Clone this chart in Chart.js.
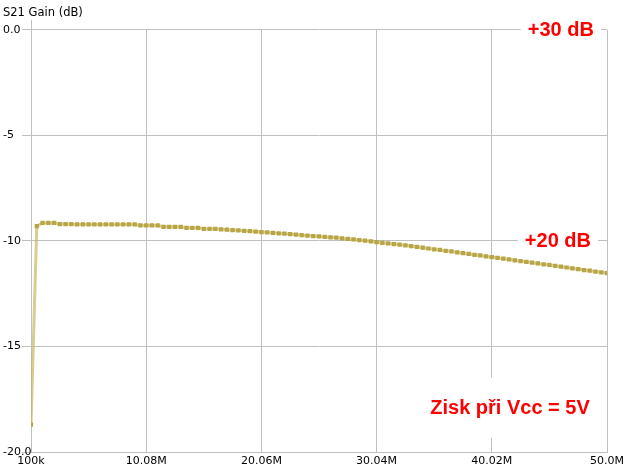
<!DOCTYPE html>
<html>
<head>
<meta charset="utf-8">
<script src="https://cdn.jsdelivr.net/npm/chart.js@4.4.1/dist/chart.umd.min.js"></script>
<style>
  html, body { margin: 0; padding: 0; background: #fff; }
  #wrap { width: 627px; height: 472px; }
</style>
</head>
<body>
<div id="wrap"><canvas id="gainChart"></canvas></div>
<script>
// Sweep settings (MHz) - 101 points, 100k .. 50M
const SWEEP_START = 0.1;
const SWEEP_STEP = 0.499;

// S21 gain (dB)
const gainDb = [
  -18.7, -9.3, -9.15, -9.15, -9.15, -9.2, -9.2, -9.21, -9.22, -9.22,
  -9.22, -9.22, -9.22, -9.22, -9.22, -9.22, -9.22, -9.22, -9.22, -9.27,
  -9.27, -9.27, -9.27, -9.33, -9.33, -9.33, -9.33, -9.38, -9.38, -9.38,
  -9.43, -9.43, -9.43, -9.45, -9.47, -9.49, -9.5, -9.52, -9.54, -9.56,
  -9.58, -9.6, -9.62, -9.64, -9.66, -9.68, -9.7, -9.73, -9.75, -9.77,
  -9.79, -9.81, -9.83, -9.85, -9.88, -9.9, -9.93, -9.96, -9.99, -10.02,
  -10.06, -10.09, -10.12, -10.15, -10.18, -10.21, -10.25, -10.28, -10.32, -10.36,
  -10.4, -10.43, -10.47, -10.5, -10.54, -10.58, -10.62, -10.66, -10.69, -10.73,
  -10.77, -10.8, -10.84, -10.88, -10.92, -10.96, -10.99, -11.03, -11.07, -11.11,
  -11.14, -11.18, -11.22, -11.26, -11.3, -11.34, -11.38, -11.41, -11.45, -11.49,
  -11.53
];

const xTickValues = [0.1, 10.08, 20.06, 30.04, 40.02, 50.0];
const xTickLabels = ['100k', '10.08M', '20.06M', '30.04M', '40.02M', '50.0M'];
const yTickValues = [0, -5, -10, -15, -20];
const yTickLabels = ['0.0', '-5', '-10', '-15', '-20.0'];

// red notes on the plot: text, MHz, dB
const notes = [
  { text: '+30 dB', x: 46.0, y: 0 },
  { text: '+20 dB', x: 45.75, y: -10 },
  { text: 'Zisk při Vcc = 5V', x: 41.6, y: -17.9 }
];

const points = gainDb.map((v, i) => ({ x: SWEEP_START + i * SWEEP_STEP, y: v }));

const GRID = '#c0c0c0';
const FONT = 'DejaVu Sans';

// white boxed labels + axis stub above the plot
const notesPlugin = {
  id: 'notes',
  beforeDatasetsDraw(chart) {
    const { ctx, scales: { x, y }, chartArea } = chart;
    ctx.save();
    ctx.strokeStyle = GRID;
    ctx.lineWidth = 1;
    ctx.beginPath();
    ctx.moveTo(chartArea.left + 0.5, chartArea.top - 10);
    ctx.lineTo(chartArea.left + 0.5, chartArea.top);
    ctx.stroke();

    ctx.font = 'bold 20px "Liberation Sans", Arial, sans-serif';
    ctx.textAlign = 'center';
    ctx.textBaseline = 'middle';
    notes.forEach(n => {
      const px = x.getPixelForValue(n.x);
      const py = y.getPixelForValue(n.y);
      const w = ctx.measureText(n.text).width;
      ctx.fillStyle = '#fff';
      ctx.fillRect(px - w / 2 - 7, py - 30, w + 14, 60);
      ctx.fillStyle = '#ff0000';
      ctx.fillText(n.text, px, py + 1);
    });
    ctx.restore();
  }
};

const ctx = document.getElementById('gainChart').getContext('2d');
new Chart(ctx, {
  type: 'line',
  data: {
    datasets: [{
      data: points,
      borderColor: 'rgba(200, 183, 95, 0.7)',
      borderWidth: 3,
      backgroundColor: '#b8a545',
      pointStyle: 'rect',
      pointRadius: 3,
      pointBorderWidth: 0,
      pointBackgroundColor: '#b8a545',
      tension: 0,
      fill: false
    }]
  },
  options: {
    responsive: true,
    maintainAspectRatio: false,
    animation: false,
    layout: { padding: { left: 3, right: 20, top: 0, bottom: 0 } },
    plugins: {
      legend: { display: false },
      tooltip: { enabled: false },
      title: {
        display: true,
        text: 'S21 Gain (dB)',
        align: 'start',
        color: '#000',
        font: { family: FONT, size: 11.5, weight: 'normal', lineHeight: 1.2 },
        padding: { top: 6, bottom: 10 }
      }
    },
    scales: {
      x: {
        type: 'linear',
        min: 0.1,
        max: 50.0,
        afterBuildTicks: axis => { axis.ticks = xTickValues.map(v => ({ value: v })); },
        afterFit: axis => { axis.height = 20; },
        grid: { color: GRID, drawTicks: false },
        border: { color: GRID },
        ticks: {
          color: '#000',
          padding: 3,
          maxRotation: 0,
          autoSkip: false,
          font: { family: FONT, size: 11 },
          callback: v => xTickLabels[xTickValues.indexOf(v)]
        }
      },
      y: {
        min: -20,
        max: 0,
        afterBuildTicks: axis => { axis.ticks = yTickValues.map(v => ({ value: v })); },
        afterFit: axis => { axis.width = 28; },
        grid: { color: GRID, tickLength: 9 },
        border: { color: GRID },
        ticks: {
          color: '#000',
          crossAlign: 'far',
          autoSkip: false,
          font: { family: FONT, size: 11 },
          callback: v => yTickLabels[yTickValues.indexOf(v)]
        }
      }
    }
  },
  plugins: [notesPlugin]
});
</script>
</body>
</html>
